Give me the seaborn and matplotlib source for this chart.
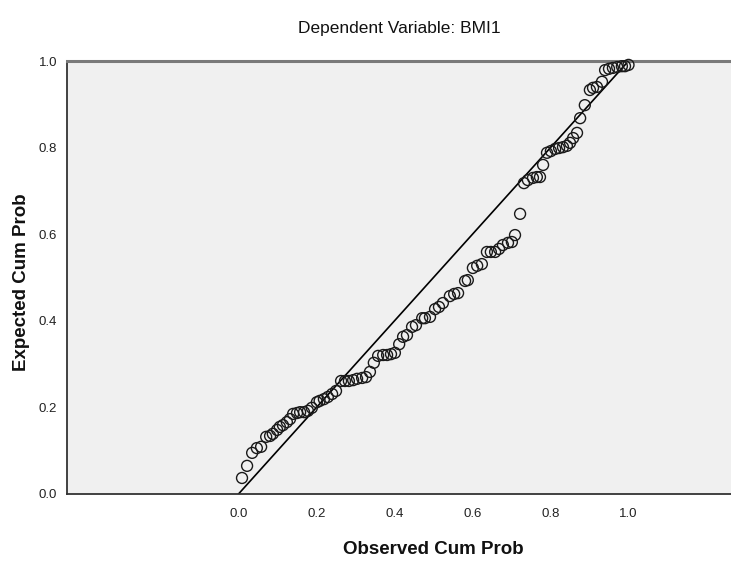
import matplotlib
matplotlib.use("Agg")
import matplotlib.pyplot as plt
import seaborn as sns
import pandas as pd

# Observed vs expected cumulative probabilities of the standardized residuals
observed_cum_prob = [
    0.009, 0.022, 0.035, 0.047, 0.058, 0.071, 0.081, 0.088, 0.099, 0.106,
    0.114, 0.124, 0.132, 0.140, 0.150, 0.158, 0.168, 0.178, 0.188, 0.201,
    0.208, 0.219, 0.229, 0.240, 0.250, 0.263, 0.273, 0.283, 0.294, 0.304,
    0.317, 0.327, 0.337, 0.347, 0.358, 0.371, 0.381, 0.391, 0.401, 0.412,
    0.422, 0.432, 0.445, 0.455, 0.471, 0.478, 0.491, 0.504, 0.514, 0.524,
    0.542, 0.553, 0.563, 0.581, 0.588, 0.601, 0.612, 0.624, 0.637, 0.647,
    0.658, 0.668, 0.678, 0.691, 0.701, 0.709, 0.722, 0.732, 0.742, 0.755,
    0.765, 0.773, 0.781, 0.791, 0.801, 0.812, 0.822, 0.832, 0.842, 0.850,
    0.858, 0.868, 0.876, 0.888, 0.901, 0.909, 0.919, 0.932, 0.940, 0.950,
    0.960, 0.971, 0.983, 0.991, 1.000,
]
expected_cum_prob = [
    0.037, 0.065, 0.095, 0.106, 0.109, 0.132, 0.134, 0.139, 0.148, 0.155,
    0.159, 0.166, 0.173, 0.185, 0.187, 0.189, 0.189, 0.192, 0.199, 0.212,
    0.215, 0.219, 0.224, 0.231, 0.238, 0.261, 0.261, 0.261, 0.263, 0.266,
    0.268, 0.270, 0.282, 0.303, 0.319, 0.321, 0.321, 0.323, 0.326, 0.346,
    0.363, 0.367, 0.386, 0.390, 0.406, 0.406, 0.409, 0.427, 0.432, 0.441,
    0.457, 0.462, 0.464, 0.492, 0.494, 0.522, 0.527, 0.531, 0.559, 0.559,
    0.559, 0.566, 0.575, 0.580, 0.582, 0.598, 0.647, 0.718, 0.725, 0.730,
    0.732, 0.732, 0.760, 0.788, 0.792, 0.797, 0.799, 0.801, 0.804, 0.811,
    0.822, 0.834, 0.868, 0.898, 0.933, 0.938, 0.940, 0.952, 0.979, 0.982,
    0.984, 0.986, 0.988, 0.988, 0.991,
]
reference_line = [0.0, 1.0]
tick_values = [0.0, 0.2, 0.4, 0.6, 0.8, 1.0]
tick_labels = ["0.0", "0.2", "0.4", "0.6", "0.8", "1.0"]

sns.set_style("white")
plt.rcParams["font.family"] = ["Liberation Sans", "DejaVu Sans"]

points = pd.DataFrame({"observed": observed_cum_prob, "expected": expected_cum_prob})
diag = pd.DataFrame({"x": reference_line, "y": reference_line})

fig = plt.figure(figsize=(7.31, 5.63), dpi=100)
ax = fig.add_axes([67 / 731, 1 - 494 / 563, 1 - 67 / 731, (494 - 61) / 563])
ax.set_facecolor("#f0f0f0")

sns.lineplot(data=diag, x="x", y="y", ax=ax, color="black", linewidth=1.2)
sns.scatterplot(data=points, x="observed", y="expected", ax=ax,
                marker="o", s=62, facecolors="none", edgecolor="#1a1a1a",
                linewidth=1.0, clip_on=False, zorder=3)

xmin = (67 - 238.5) / 390
xmax = (731 - 238.5) / 390
ax.set_xlim(xmin, xmax)
ax.set_ylim(0, 1)
ax.set_xticks(tick_values)
ax.set_xticklabels(tick_labels)
ax.set_yticks(tick_values)
ax.set_yticklabels(tick_labels)
ax.tick_params(axis="both", direction="out", length=5, width=1, color="#333333",
               labelsize=9.5, labelcolor="#222222", pad=2)
ax.tick_params(axis="x", pad=5)

for side in ["left", "bottom"]:
    ax.spines[side].set_color("#333333")
    ax.spines[side].set_linewidth(1.3)
ax.spines["top"].set_color("#7a7a7a")
ax.spines["top"].set_linewidth(2.2)
ax.spines["right"].set_visible(False)

ax.set_xlabel("Observed Cum Prob", fontsize=13.5, fontweight="bold", color="#111111")
ax.set_ylabel("Expected Cum Prob", fontsize=13.5, fontweight="bold", color="#111111")
ax.xaxis.set_label_coords((0.5 - xmin) / (xmax - xmin), -0.108)
ax.yaxis.set_label_coords(-0.056, 0.49)

fig.text(399 / 731, 1 - 28 / 563, "Dependent Variable: BMI1", ha="center", va="center",
         fontsize=12.5, color="#111111")

fig.savefig("out.png", dpi=100)
